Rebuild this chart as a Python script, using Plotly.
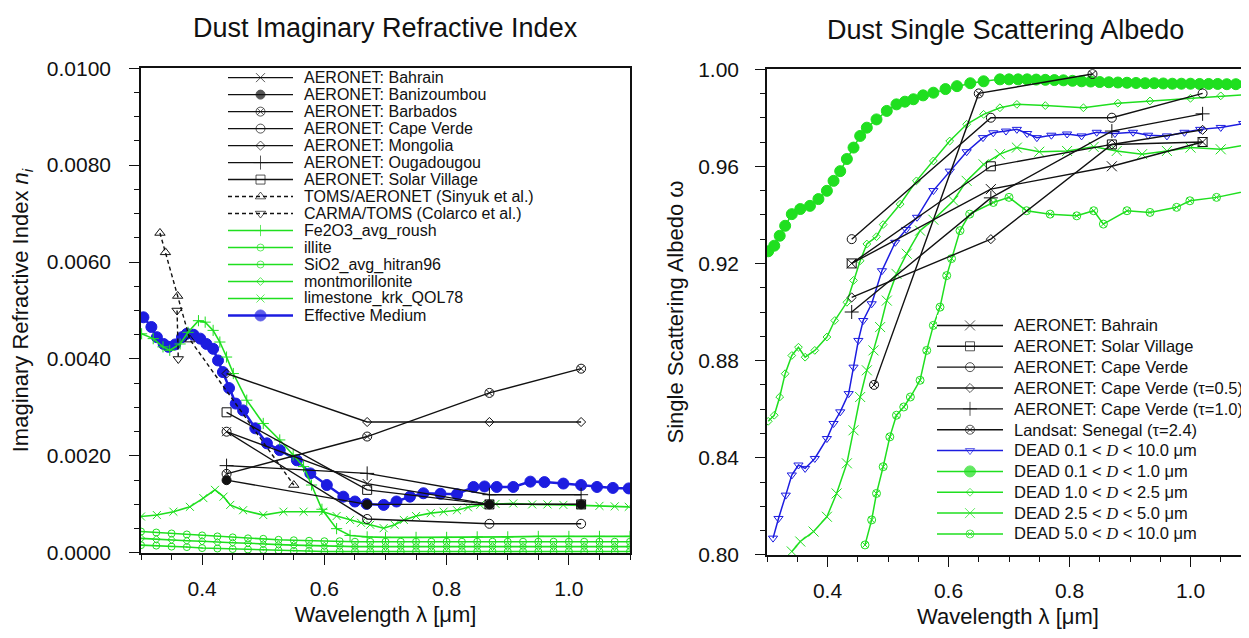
import plotly.graph_objects as go

# The page body adds an 8px margin, so the figure is drawn 8px right/down.
OFF = 8
W, H = 1249 - OFF, 638 - OFF
FONT = "Liberation Sans"
GREEN = "#1fdf1f"
BLUE = "#1c1ce0"
BLACK = "#111111"


def fx(p):
    return (p - OFF) / W


def fy(p):
    # vertical placement correction measured from previous renders
    s = (p - 11) / 0.966 - OFF
    return 1 - s / H


# ---------------- Left panel data: imaginary refractive index ----------------
aero_wl = [0.44, 0.67, 0.87, 1.02]
ni_bahrain = [0.0025, 0.00143, 0.0010, 0.0010]
ni_banizoumbou = [0.0015, 0.0010, 0.0010, 0.0010]
ni_barbados = [0.00163, 0.0024, 0.0033, 0.0038]
ni_capeverde = [0.0025, 0.0007, 0.0006, 0.0006]
ni_mongolia = [0.0037, 0.0027, 0.0027, 0.0027]
ni_ougadougou = [0.0018, 0.00164, 0.0012, 0.0012]
ni_solarvillage = [0.0029, 0.0013, 0.0010, 0.0010]

toms_wl = [0.331, 0.340, 0.360, 0.380, 0.550]
toms_ni = [0.0066, 0.0062, 0.0053, 0.0044, 0.0014]
carma_wl = [0.359, 0.361]
carma_ni = [0.0050, 0.0040]

fe_wl = [0.301, 0.32, 0.336, 0.347, 0.364, 0.377, 0.394, 0.405, 0.418, 0.429, 0.44, 0.451,
         0.473, 0.50, 0.527, 0.549, 0.566, 0.579, 0.596, 0.62, 0.642, 0.67, 0.70, 0.75, 0.8,
         0.85, 0.9, 0.95, 1.0, 1.05, 1.1]
fe_ni = [0.00452, 0.00442, 0.00425, 0.00418, 0.00431, 0.00455, 0.00479, 0.00476, 0.00459,
         0.00435, 0.00404, 0.0037, 0.00315, 0.00267, 0.00233, 0.00202, 0.00178, 0.0014,
         0.0009, 0.0005, 0.00036, 0.00033, 0.00032, 0.00032, 0.00032, 0.00033, 0.00033,
         0.00034, 0.00034, 0.00034, 0.00034]

min_wl = [0.300, 0.325, 0.350, 0.375, 0.400, 0.425, 0.450, 0.475, 0.500, 0.525, 0.550,
          0.575, 0.600, 0.625, 0.650, 0.675, 0.700, 0.725, 0.750, 0.775, 0.800, 0.825,
          0.850, 0.875, 0.900, 0.925, 0.950, 0.975, 1.000, 1.025, 1.050, 1.075, 1.100]
illite_ni = [0.00044, 0.00042, 0.0004, 0.00038, 0.00036, 0.00034, 0.00032, 0.0003, 0.00029,
             0.00027, 0.00026, 0.00025, 0.00024, 0.00024, 0.00023, 0.00023, 0.00023,
             0.00023, 0.00023, 0.00023, 0.00023, 0.00023, 0.00023, 0.00023, 0.00023,
             0.00023, 0.00023, 0.00023, 0.00023, 0.00023, 0.00023, 0.00023, 0.00023]
sio2_ni = [0.00016, 0.00015, 0.00013, 0.00012, 0.0001, 0.00009, 0.00008, 0.00007, 0.00006,
           0.00005, 0.00004, 0.00004, 0.00003, 0.00003, 0.00003, 0.00003, 0.00003, 0.00003,
           0.00003, 0.00003, 0.00003, 0.00003, 0.00003, 0.00003, 0.00003, 0.00003, 0.00003,
           0.00003, 0.00003, 0.00003, 0.00003, 0.00003, 0.00003]
montm_ni = [0.0003, 0.00028, 0.00027, 0.00025, 0.00024, 0.00022, 0.00021, 0.0002, 0.00018,
            0.00017, 0.00016, 0.00015, 0.00014, 0.00014, 0.00013, 0.00013, 0.00013,
            0.00013, 0.00013, 0.00013, 0.00013, 0.00013, 0.00013, 0.00013, 0.00013,
            0.00013, 0.00013, 0.00013, 0.00013, 0.00013, 0.00013, 0.00013, 0.00013]

lime_wl = [0.30, 0.326, 0.353, 0.38, 0.402, 0.421, 0.435, 0.446, 0.467, 0.50, 0.533, 0.566,
           0.598, 0.62, 0.642, 0.66, 0.675, 0.697, 0.715, 0.73, 0.75, 0.774, 0.795, 0.817,
           0.835, 0.855, 0.88, 0.909, 0.94, 0.965, 0.991, 1.02, 1.05, 1.075, 1.098]
lime_ni = [0.00075, 0.00078, 0.00085, 0.00095, 0.00113, 0.0013, 0.00116, 0.00099, 0.00088,
           0.00078, 0.00085, 0.00085, 0.00085, 0.00076, 0.00068, 0.00062, 0.00058, 0.00051,
           0.00058, 0.00068, 0.00076, 0.00082, 0.00085, 0.00088, 0.00094, 0.00099, 0.00101,
           0.00102, 0.001, 0.001, 0.00099, 0.00098, 0.00097, 0.00096, 0.00095]

em_wl = [0.304, 0.317, 0.326, 0.337, 0.345, 0.356, 0.367, 0.375, 0.386, 0.397, 0.407, 0.418,
         0.426, 0.434, 0.444, 0.455, 0.467, 0.487, 0.506, 0.527, 0.555, 0.577, 0.604, 0.631,
         0.65, 0.669, 0.697, 0.718, 0.74, 0.762, 0.79, 0.817, 0.844, 0.862, 0.882, 0.909,
         0.937, 0.96, 0.991, 1.02, 1.046, 1.072, 1.098]
em_ni = [0.00486, 0.00466, 0.00445, 0.00431, 0.00425, 0.0043, 0.00445, 0.00452, 0.0045,
         0.00442, 0.00431, 0.00421, 0.00397, 0.00373, 0.0034, 0.00308, 0.00294, 0.00257,
         0.00226, 0.00212, 0.00191, 0.00164, 0.0014, 0.00116, 0.00106, 0.00101, 0.00099,
         0.00106, 0.00116, 0.00123, 0.00122, 0.00121, 0.00136, 0.00137, 0.00136, 0.00136,
         0.00147, 0.00146, 0.00143, 0.0014, 0.00136, 0.00134, 0.00133]

# ---------------- Right panel data: single scattering albedo ----------------
ssa_bahrain = [0.920, 0.9506, 0.960, 0.970]
ssa_solar = [0.920, 0.960, 0.969, 0.970]
ssa_cv = [0.930, 0.980, 0.980, 0.990]
ssa_cv05 = [0.906, 0.930, 0.969, 0.975]
ssa_cv10 = [0.900, 0.947, 0.9745, 0.9816]
landsat_wl = [0.477, 0.65, 0.838]
ssa_landsat = [0.870, 0.990, 0.998]

d_all_wl = [0.31, 0.319, 0.331, 0.341, 0.352, 0.363, 0.379, 0.399, 0.41, 0.421, 0.435, 0.443,
            0.451, 0.459, 0.473, 0.49, 0.512, 0.53, 0.548, 0.575, 0.602, 0.63, 0.657, 0.674,
            0.695, 0.713, 0.73, 0.746, 0.77, 0.796, 0.82, 0.845, 0.875, 0.905, 0.93, 0.961,
            0.99, 1.016, 1.05, 1.087]
ssa_d_all = [0.8069, 0.815, 0.8246, 0.8329, 0.837, 0.8356, 0.8397, 0.8479, 0.8541, 0.8589,
             0.8664, 0.8773, 0.8883, 0.8965, 0.9034, 0.917, 0.9287, 0.934, 0.939, 0.950,
             0.958, 0.966, 0.9718, 0.9738, 0.9745, 0.9752, 0.9735, 0.9718, 0.9728, 0.9733,
             0.9725, 0.974, 0.9735, 0.974, 0.9728, 0.9725, 0.974, 0.9752, 0.976, 0.9776]

d_fine_wl = [0.302, 0.312, 0.321, 0.33, 0.341, 0.355, 0.371, 0.385, 0.399, 0.41, 0.421, 0.432,
             0.443, 0.454, 0.465, 0.481, 0.498, 0.514, 0.528, 0.542, 0.558, 0.575, 0.595,
             0.614, 0.636, 0.658, 0.685, 0.70, 0.715, 0.73, 0.745, 0.76, 0.775, 0.79, 0.805,
             0.82, 0.835, 0.85, 0.865, 0.88, 0.895, 0.91, 0.925, 0.94, 0.955, 0.97, 0.985,
             1.0, 1.015, 1.03, 1.045, 1.06, 1.075, 1.09]
ssa_d_fine = [0.925, 0.9273, 0.9314, 0.9355, 0.9403, 0.9424, 0.9437, 0.9465, 0.9499, 0.954,
              0.958, 0.963, 0.9677, 0.9725, 0.9759, 0.9793, 0.9828, 0.9855, 0.9866, 0.9876,
              0.9892, 0.9903, 0.9918, 0.993, 0.9942, 0.995, 0.9958, 0.9958, 0.9958, 0.9958,
              0.9957, 0.9956, 0.9955, 0.9954, 0.9952, 0.995, 0.9949, 0.9947, 0.9946, 0.9945,
              0.9944, 0.9943, 0.9942, 0.9942, 0.9941, 0.994, 0.994, 0.994, 0.9939, 0.9939,
              0.9939, 0.9938, 0.9938, 0.9938]

d_25_wl = [0.302, 0.312, 0.321, 0.33, 0.341, 0.352, 0.363, 0.379, 0.399, 0.412, 0.432, 0.443,
           0.454, 0.465, 0.481, 0.492, 0.52, 0.547, 0.575, 0.602, 0.63, 0.658, 0.685, 0.713,
           0.76, 0.823, 0.88, 0.933, 1.0, 1.05, 1.097]
ssa_d_25 = [0.855, 0.8575, 0.865, 0.8746, 0.8821, 0.8855, 0.8814, 0.8842, 0.8897, 0.8965,
            0.904, 0.913, 0.9211, 0.928, 0.931, 0.936, 0.9444, 0.954, 0.9622, 0.9704, 0.9773,
            0.9814, 0.9841, 0.9855, 0.985, 0.9841, 0.986, 0.9869, 0.988, 0.989, 0.9896]

d_50_wl = [0.341, 0.355, 0.377, 0.399, 0.415, 0.432, 0.443, 0.454, 0.465, 0.476, 0.487, 0.498,
           0.514, 0.531, 0.553, 0.575, 0.608, 0.63, 0.658, 0.685, 0.713, 0.75, 0.796, 0.84,
           0.878, 0.92, 0.961, 1.0, 1.05, 1.097]
ssa_d_50 = [0.8014, 0.8055, 0.8096, 0.8157, 0.8253, 0.8377, 0.8513, 0.865, 0.876, 0.8842,
            0.8938, 0.9047, 0.9157, 0.924, 0.9335, 0.938, 0.9458, 0.954, 0.9608, 0.965, 0.9677,
            0.966, 0.9663, 0.968, 0.9663, 0.965, 0.9663, 0.9677, 0.967, 0.969]

d_100_wl = [0.462, 0.473, 0.481, 0.492, 0.503, 0.514, 0.526, 0.537, 0.553, 0.564, 0.575,
            0.586, 0.597, 0.605, 0.619, 0.635, 0.674, 0.70, 0.729, 0.768, 0.812, 0.84, 0.856,
            0.895, 0.933, 0.977, 0.999, 1.043, 1.097]
ssa_d_100 = [0.8041, 0.8144, 0.8253, 0.8363, 0.8486, 0.8575, 0.8609, 0.865, 0.8719, 0.8842,
             0.8945, 0.902, 0.915, 0.922, 0.9335, 0.9403, 0.9451, 0.9472, 0.9417, 0.9403,
             0.9396, 0.9417, 0.9362, 0.9417, 0.941, 0.9431, 0.9458, 0.9472, 0.95]

# ---------------- legend labels ----------------
left_names = ["AERONET: Bahrain", "AERONET: Banizoumbou", "AERONET: Barbados",
              "AERONET: Cape Verde", "AERONET: Mongolia", "AERONET: Ougadougou",
              "AERONET: Solar Village", "TOMS/AERONET (Sinyuk et al.)",
              "CARMA/TOMS (Colarco et al.)", "Fe2O3_avg_roush", "illite", "SiO2_avg_hitran96",
              "montmorillonite", "limestone_krk_QOL78", "Effective Medium"]
DD = "<span style='font-family:Liberation Serif'><i>D</i></span>"
right_names = ["AERONET: Bahrain", "AERONET: Solar Village", "AERONET: Cape Verde",
               "AERONET: Cape Verde (τ=0.5)", "AERONET: Cape Verde (τ=1.0)",
               "Landsat: Senegal (τ=2.4)",
               "DEAD 0.1 &lt; " + DD + " &lt; 10.0 μm", "DEAD 0.1 &lt; " + DD + " &lt; 1.0 μm",
               "DEAD 1.0 &lt; " + DD + " &lt; 2.5 μm", "DEAD 2.5 &lt; " + DD + " &lt; 5.0 μm",
               "DEAD 5.0 &lt; " + DD + " &lt; 10.0 μm"]

fig = go.Figure()


def style(color, symbol, size, lw=1.4, dash="solid", mlw=1.0):
    return dict(line=dict(color=color, width=lw, dash=dash),
                marker=dict(symbol=symbol, size=size, color=color,
                            line=dict(color=color, width=mlw)))


DASH = "4px,3px"
left_styles = [
    style(BLACK, "x-thin-open", 9),
    style(BLACK, "circle", 9),
    style(BLACK, "circle-x-open", 9),
    style(BLACK, "circle-open", 9),
    style(BLACK, "diamond-open", 7),
    style(BLACK, "cross-thin-open", 10),
    style(BLACK, "square-open", 9),
    style(BLACK, "triangle-up-open", 9, dash=DASH),
    style(BLACK, "triangle-down-open", 9, dash=DASH),
    style(GREEN, "cross-thin-open", 8, lw=1.6),
    style(GREEN, "circle-open", 7, lw=1.6),
    style(GREEN, "circle-open-dot", 7, lw=1.6),
    style(GREEN, "diamond-open", 6, lw=1.6),
    style(GREEN, "x-thin-open", 8, lw=1.6),
    style(BLUE, "circle", 11, lw=2.5),
]
left_data = [
    (aero_wl, ni_bahrain), (aero_wl, ni_banizoumbou), (aero_wl, ni_barbados),
    (aero_wl, ni_capeverde), (aero_wl, ni_mongolia), (aero_wl, ni_ougadougou),
    (aero_wl, ni_solarvillage), (toms_wl, toms_ni), (carma_wl, carma_ni),
    (fe_wl, fe_ni), (min_wl, illite_ni), (min_wl, sio2_ni), (min_wl, montm_ni),
    (lime_wl, lime_ni), (em_wl, em_ni)]
order_left = [14, 9, 10, 11, 12, 13, 0, 1, 2, 3, 4, 5, 6, 7, 8]
for i in order_left:
    x, y = left_data[i]
    fig.add_trace(go.Scatter(x=x, y=y, mode="lines+markers", name=left_names[i],
                             showlegend=False, xaxis="x", yaxis="y", **left_styles[i]))

right_styles = [
    style(BLACK, "x-thin-open", 10),
    style(BLACK, "square-open", 9),
    style(BLACK, "circle-open", 9),
    style(BLACK, "diamond-open", 7),
    style(BLACK, "cross-thin-open", 10),
    style(BLACK, "circle-x-open", 9),
    style(BLUE, "triangle-down-open", 8, lw=1.5),
    style(GREEN, "circle", 11, lw=1.5),
    style(GREEN, "diamond-open", 6, lw=1.5),
    style(GREEN, "x-thin-open", 10, lw=1.5),
    style(GREEN, "circle-x-open", 8, lw=1.5),
]
right_data = [
    (aero_wl, ssa_bahrain), (aero_wl, ssa_solar), (aero_wl, ssa_cv), (aero_wl, ssa_cv05),
    (aero_wl, ssa_cv10), (landsat_wl, ssa_landsat), (d_all_wl, ssa_d_all),
    (d_fine_wl, ssa_d_fine), (d_25_wl, ssa_d_25), (d_50_wl, ssa_d_50), (d_100_wl, ssa_d_100)]
order_right = [7, 8, 9, 10, 6, 0, 1, 2, 3, 4, 5]
for i in order_right:
    x, y = right_data[i]
    fig.add_trace(go.Scatter(x=x, y=y, mode="lines+markers", name=right_names[i],
                             showlegend=False, xaxis="x2", yaxis="y2", **right_styles[i]))

# ---------------- hand-made legends (samples on hidden axes) ----------------
annotations = []
for i, nm in enumerate(left_names):
    st = left_styles[i]
    mk = dict(st["marker"])
    mk["size"] = [0, st["marker"]["size"], 0]
    fig.add_trace(go.Scatter(x=[0, 0.5, 1], y=[i, i, i], mode="lines+markers",
                             line=st["line"], marker=mk, showlegend=False,
                             hoverinfo="skip", xaxis="x3", yaxis="y3"))
    annotations.append(dict(text=nm, x=fx(302), xref="paper", y=i, yref="y3",
                            xanchor="left", yanchor="middle", showarrow=False,
                            font=dict(family=FONT, size=16, color="#111")))
for i, nm in enumerate(right_names):
    st = right_styles[i]
    mk = dict(st["marker"])
    mk["size"] = [0, st["marker"]["size"], 0]
    fig.add_trace(go.Scatter(x=[0, 0.5, 1], y=[i, i, i], mode="lines+markers",
                             line=st["line"], marker=mk, showlegend=False,
                             hoverinfo="skip", xaxis="x4", yaxis="y4"))
    annotations.append(dict(text=nm, x=fx(1012), xref="paper", y=i, yref="y4",
                            xanchor="left", yanchor="middle", showarrow=False,
                            font=dict(family=FONT, size=16.5, color="#111")))

annotations.append(dict(text="Dust Imaginary Refractive Index", x=fx(385), y=fy(27),
                        xref="paper", yref="paper", xanchor="center", yanchor="middle",
                        showarrow=False, font=dict(family=FONT, size=27, color="#111")))
annotations.append(dict(text="Dust Single Scattering Albedo", x=fx(1005), y=fy(29),
                        xref="paper", yref="paper", xanchor="center", yanchor="middle",
                        showarrow=False, font=dict(family=FONT, size=27, color="#111")))

tickfont = dict(family=FONT, size=21, color="#111")
titlefont = dict(family=FONT, size=22, color="#111")


def main_axis(**kw):
    d = dict(showline=True, linecolor="#111", linewidth=1.6, ticks="outside", ticklen=10,
             tickwidth=1.4, tickcolor="#111", showgrid=False, zeroline=False,
             tickfont=tickfont)
    d.update(kw)
    return d


def minor(dt, t0):
    return dict(ticks="outside", ticklen=5, dtick=dt, tick0=t0, tickcolor="#111",
                tickwidth=1)


fig.update_layout(
    width=W, height=H, margin=dict(l=0, r=0, t=0, b=0),
    paper_bgcolor="white", plot_bgcolor="white", showlegend=False,
    annotations=annotations,
    xaxis=main_axis(domain=[fx(141), fx(630)], anchor="y", range=[0.3, 1.1], tick0=0.4,
                    dtick=0.2, tickformat=".1f", mirror=True, ticklabelstandoff=6,
                    minor=minor(0.05, 0.3),
                    title=dict(text="Wavelength λ [μm]", font=titlefont, standoff=8)),
    yaxis=main_axis(domain=[fy(553), fy(67)], anchor="x", range=[0, 0.01], tick0=0,
                    dtick=0.002, tickformat=".4f", mirror=True, ticklabelstandoff=14,
                    minor=minor(0.0005, 0),
                    title=dict(text="Imaginary Refractive Index <i>n</i><sub><i>i</i></sub>",
                               font=titlefont, standoff=12)),
    xaxis2=main_axis(domain=[fx(767), 1.0], anchor="y2", range=[0.3, 0.3 + 0.8 * 482 / 484],
                     tick0=0.4, dtick=0.2, tickformat=".1f", mirror=True,
                     ticklabelstandoff=6, minor=minor(0.05, 0.3),
                     title=dict(text="Wavelength λ [μm]", font=titlefont, standoff=8)),
    yaxis2=main_axis(domain=[fy(555), fy(68)], anchor="x2", range=[0.8, 1.0],
                     tick0=0.8, dtick=0.04, tickformat=".2f", ticklabelstandoff=12,
                     minor=minor(0.01, 0.8),
                     title=dict(text="Single Scattering Albedo ω", font=titlefont,
                                standoff=8)),
    xaxis3=dict(domain=[fx(228), fx(293)], anchor="y3", range=[0, 1], visible=False,
                fixedrange=True),
    yaxis3=dict(domain=[fy(323.5), fy(68)], anchor="x3", range=[14.5, -0.5],
                visible=False, fixedrange=True),
    xaxis4=dict(domain=[fx(937), fx(1003)], anchor="y4", range=[0, 1], visible=False,
                fixedrange=True),
    yaxis4=dict(domain=[fy(544.5), fy(314.5)], anchor="x4", range=[10.5, -0.5],
                visible=False, fixedrange=True),
)

fig.write_html("out.html")
